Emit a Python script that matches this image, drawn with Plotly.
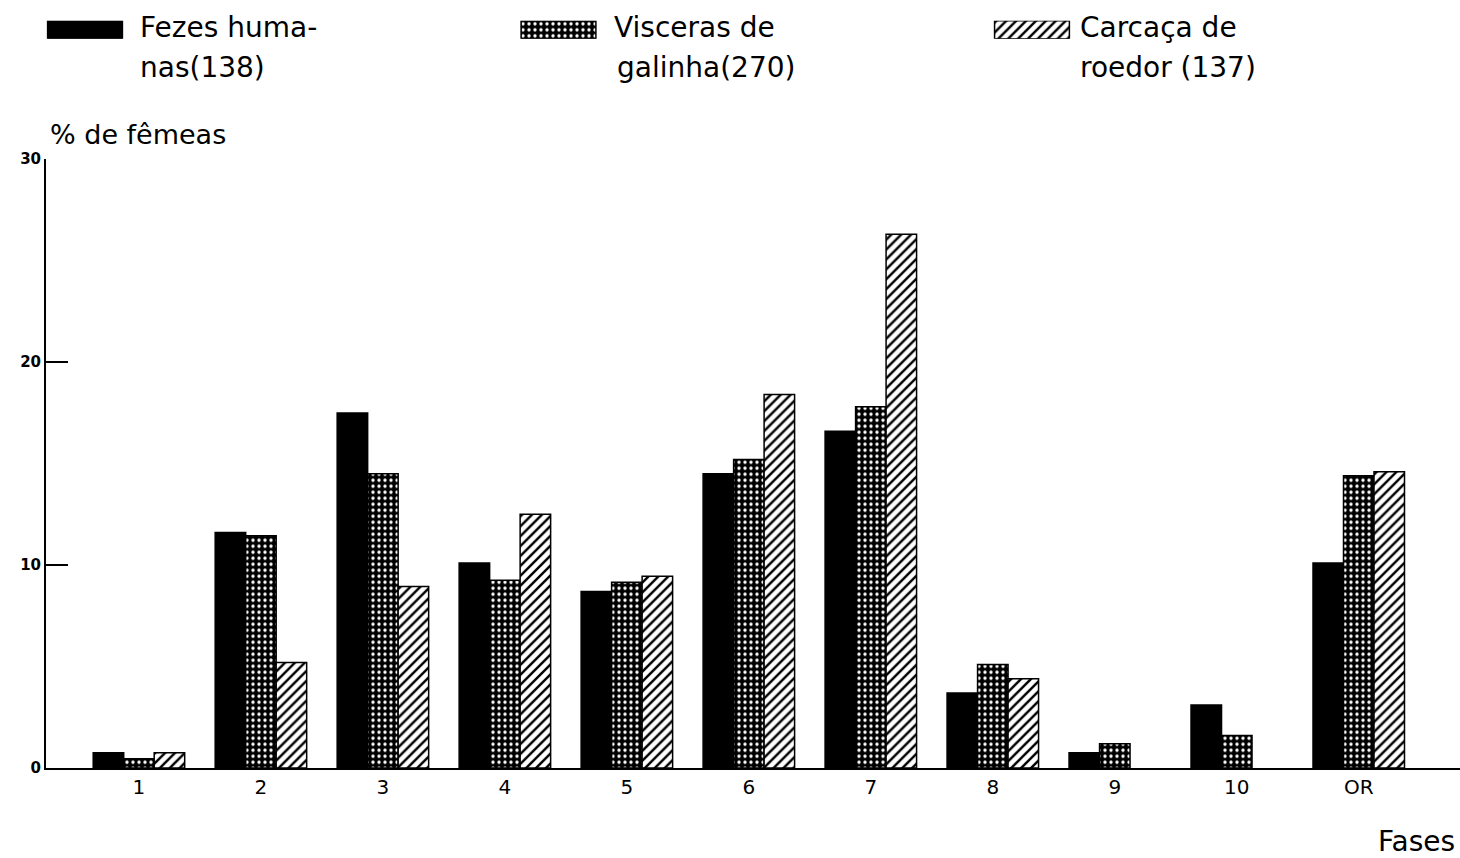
import plotly.graph_objects as go

fases = ["1", "2", "3", "4", "5", "6", "7", "8", "9", "10", "OR"]
fezes_humanas = [0.75, 11.6, 17.5, 10.1, 8.7, 14.5, 16.6, 3.7, 0.75, 3.1, 10.1]
visceras_galinha = [0.45, 11.45, 14.5, 9.25, 9.15, 15.2, 17.8, 5.1, 1.2, 1.6, 14.4]
carcaca_roedor = [0.75, 5.2, 8.95, 12.5, 9.45, 18.4, 26.3, 4.4, 0.0, 0.0, 14.6]

legend_keys = ["fezes", "visceras", "carcaca"]
legend_line1 = ["Fezes huma-", "Visceras de", "Carcaça de"]
legend_line2 = ["nas(138)", "galinha(270)", "roedor (137)"]

FONT = "DejaVu Sans"
LINE = dict(color="black", width=1.5)

fill_fezes = dict(color="black", line=LINE)
fill_visceras = dict(color="black", line=LINE,
                     pattern=dict(shape=".", fgcolor="white", bgcolor="black",
                                  size=6, solidity=0.25, fillmode="replace"))
fill_carcaca = dict(color="white", line=LINE,
                    pattern=dict(shape="/", fgcolor="black", bgcolor="white",
                                 size=7, solidity=0.35, fillmode="replace"))
fills = [fill_fezes, fill_visceras, fill_carcaca]

series = [fezes_humanas, visceras_galinha, [v if v > 0 else None for v in carcaca_roedor]]

fig = go.Figure()
for i in range(3):
    fig.add_trace(go.Bar(x=fases, y=series[i],
                         name=" ".join([legend_line1[i], legend_line2[i]]),
                         marker=fills[i], showlegend=False))

# legend key swatches, one per series, on a helper axis
for i in range(3):
    fig.add_trace(go.Bar(
        x=[legend_keys[i]], y=[1], xaxis="x2", yaxis="y2", width=0.158,
        offsetgroup="key", showlegend=False, hoverinfo="skip",
        marker=fills[i],
    ))

annotations = [
    dict(text="% de fêmeas", xref="paper", yref="paper", x=0.0014, y=0.8346,
         xanchor="left", yanchor="middle", showarrow=False,
         font=dict(size=27, family=FONT)),
    dict(text="Fases", xref="paper", yref="paper", x=0.998, y=-0.0964,
         xanchor="right", yanchor="middle", showarrow=False,
         font=dict(size=28, family=FONT)),
]
l1x = [0.0651, 0.4003, 0.7298]
l2x = [0.0651, 0.4024, 0.7298]
for i in range(3):
    annotations.append(dict(text=legend_line1[i], xref="paper", yref="paper", x=l1x[i], y=0.9753,
                            xanchor="left", yanchor="middle", showarrow=False,
                            font=dict(size=28, family=FONT)))
    annotations.append(dict(text=legend_line2[i], xref="paper", yref="paper", x=l2x[i], y=0.9232,
                            xanchor="left", yanchor="middle", showarrow=False,
                            font=dict(size=28, family=FONT)))

fig.update_layout(
    width=1460, height=858,
    margin=dict(l=46, r=0, t=0, b=90),
    paper_bgcolor="white", plot_bgcolor="white",
    barmode="group", bargap=0.25, bargroupgap=0.0,
    font=dict(family=FONT, color="black"),
    showlegend=False,
    xaxis=dict(
        type="category", range=[-0.762, 10.83],
        showline=True, linecolor="black", linewidth=2,
        showgrid=False, zeroline=False, ticks="",
        tickfont=dict(size=20, family=FONT),
    ),
    yaxis=dict(
        domain=[0, 0.80208],
        range=[0, 30], tickvals=[0, 10, 20, 30],
        showline=True, linecolor="black", linewidth=2,
        showgrid=False, zeroline=False,
        ticks="inside", ticklen=22, tickwidth=2, tickcolor="black",
        tickfont=dict(size=15, family=FONT, weight="bold"),
    ),
    xaxis2=dict(
        type="category", domain=[0, 1], anchor="y2",
        range=[-0.0824, 2.904], visible=False, fixedrange=True,
    ),
    yaxis2=dict(
        domain=[0.9609, 0.9844], anchor="x2",
        range=[0, 1], visible=False, fixedrange=True,
    ),
    annotations=annotations,
)

fig.write_html("out.html", config={"displayModeBar": False},
               post_script="document.body.style.margin='0';document.body.style.overflow='hidden';")
